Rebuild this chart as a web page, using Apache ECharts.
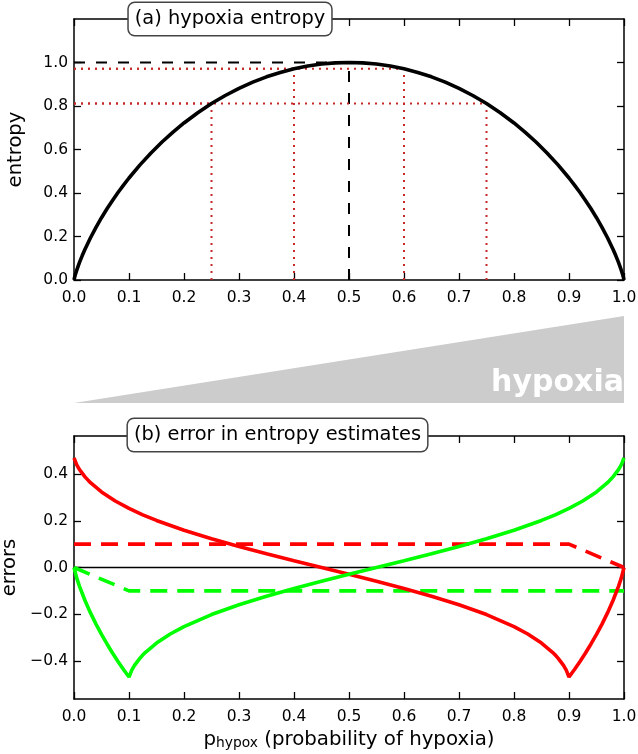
<!DOCTYPE html>
<html><head><meta charset="utf-8">
<script src="https://cdn.jsdelivr.net/npm/echarts@6/dist/echarts.min.js"></script>
<style>html,body{margin:0;padding:0;background:#fff}#c{width:638px;height:754px}</style>
</head><body><div id="c"></div>
<script>
// ---- data ----
const xTicks = [0,0.1,0.2,0.3,0.4,0.5,0.6,0.7,0.8,0.9,1.0];
const entropyTicks = [0,0.2,0.4,0.6,0.8,1.0];
const errorTicks = [-0.4,-0.2,0,0.2,0.4];

const pEntropy = [0,0.001,0.0025,0.005,0.01,0.015,0.02,0.03,0.04,0.05,0.06,0.07,0.08,0.09,0.1,0.12,0.14,0.16,0.18,0.2,0.225,0.25,0.275,0.3,0.325,0.35,0.375,0.4,0.425,0.45,0.475,0.5,
  0.525,0.55,0.575,0.6,0.625,0.65,0.675,0.7,0.725,0.75,0.775,0.8,0.82,0.84,0.86,0.88,0.9,0.91,0.92,0.93,0.94,0.95,0.96,0.97,0.98,0.985,0.99,0.995,0.9975,0.999,1];
const entropy = [0,0.0114,0.0252,0.0454,0.0808,0.1124,0.1414,0.1944,0.2423,0.2864,0.3274,0.3659,0.4022,0.4365,0.4690,0.5294,0.5842,0.6343,0.6801,0.7219,0.7692,0.8113,0.8484,0.8813,0.9098,0.9341,0.9544,0.9710,0.9837,0.9928,0.9982,1.0,
  0.9982,0.9928,0.9837,0.9710,0.9544,0.9341,0.9098,0.8813,0.8484,0.8113,0.7692,0.7219,0.6801,0.6343,0.5842,0.5294,0.4690,0.4365,0.4022,0.3659,0.3274,0.2864,0.2423,0.1944,0.1414,0.1124,0.0808,0.0454,0.0252,0.0114,0];

const maxP = [0,0.5];          // black dashed guide
const maxH = [1.0,1.0];
const markP = [0.25,0.4,0.6,0.75];    // red dotted guides
const markH = [0.811,0.971,0.971,0.811];

const pRed = [0,0.005,0.01,0.02,0.03,0.05,0.075,0.1,0.125,0.15,0.2,0.25,0.3,0.35,0.4,0.45,0.5,0.55,0.6,0.65,0.7,0.75,0.8,0.825,0.85,0.87,0.875,0.88,0.89,0.895,0.9,0.91,0.92,0.93,0.94,0.95,0.96,0.97,0.98,0.99,0.995,1];
const errRed = [0.469,0.4392,0.4191,0.3880,0.3630,0.3234,0.2847,0.2529,0.2256,0.2015,0.1594,0.1228,0.0897,0.0587,0.0290,0,-0.0290,-0.0587,-0.0897,-0.1228,-0.1594,-0.2015,-0.2529,-0.2847,-0.3234,-0.3630,-0.3749,-0.3880,-0.4191,-0.4392,-0.469,-0.4365,-0.4022,-0.3659,-0.3274,-0.2864,-0.2423,-0.1944,-0.1414,-0.0808,-0.0454,0];
const pGreen = [0,0.005,0.01,0.02,0.03,0.04,0.05,0.06,0.07,0.08,0.09,0.1,0.105,0.11,0.12,0.125,0.13,0.15,0.175,0.2,0.25,0.3,0.35,0.4,0.45,0.5,0.55,0.6,0.65,0.7,0.75,0.8,0.85,0.875,0.9,0.925,0.95,0.97,0.98,0.99,0.995,1];
const errGreen = [0,-0.0454,-0.0808,-0.1414,-0.1944,-0.2423,-0.2864,-0.3274,-0.3659,-0.4022,-0.4365,-0.469,-0.4392,-0.4191,-0.3880,-0.3749,-0.3630,-0.3234,-0.2847,-0.2529,-0.2015,-0.1594,-0.1228,-0.0897,-0.0587,-0.0290,0,0.0290,0.0587,0.0897,0.1228,0.1594,0.2015,0.2256,0.2529,0.2847,0.3234,0.3630,0.3880,0.4191,0.4392,0.469];
const pRedDash = [0,0.9,1];
const redDash = [0.1,0.1,0];
const pGreenDash = [0,0.1,1];
const greenDash = [0,-0.1,-0.1];
const pZero = [0,1];
const zeroLine = [0,0];
const pWedge = [0,1];
const wedge = [0,1];

// ---- chart ----
const FONT = '"DejaVu Sans", sans-serif';
const zip = (xs, ys) => xs.map((x,i)=>[x, ys[i]]);
const fmt = v => (v < 0 ? '\u2212' : '') + Math.abs(v).toFixed(1);

function xAx(grid, pos, labels) {
  return {
    type:'value', gridIndex:grid, position:pos, min:0, max:1, interval:0.1,
    axisLine:{show:true, onZero:false, lineStyle:{color:'#000', width:1.5}},
    axisTick:{show:true, inside:true, length:7, lineStyle:{color:'#000', width:1.3}},
    axisLabel:{show:labels, margin:10, color:'#000', fontFamily:FONT, fontSize:15.5, formatter:fmt},
    splitLine:{show:false}
  };
}
function yAx(grid, pos, labels, min, max, ticks, extra) {
  return Object.assign({
    type:'value', gridIndex:grid, position:pos, min:min, max:max,
    axisLine:{show:true, onZero:false, lineStyle:{color:'#000', width:1.5}},
    axisTick:{show:true, inside:true, length:7, customValues:ticks, lineStyle:{color:'#000', width:1.3}},
    axisLabel:{show:labels, margin:6, color:'#000', fontFamily:FONT, fontSize:15.5, customValues:ticks, formatter:fmt},
    splitLine:{show:false}
  }, extra||{});
}

const series = [];
// top panel
series.push({type:'line', xAxisIndex:0, yAxisIndex:0, data:zip(maxP,maxH), symbol:'none',
  lineStyle:{color:'#000', width:2, type:[11,11]}, z:3});
series.push({type:'line', xAxisIndex:0, yAxisIndex:0, data:[[maxP[1],0],[maxP[1],maxH[1]]], symbol:'none',
  lineStyle:{color:'#000', width:2, type:[11,11]}, z:3});
markP.forEach((p,i)=>{
  series.push({type:'line', xAxisIndex:0, yAxisIndex:0, data:[[p,0],[p,markH[i]]], symbol:'none',
    lineStyle:{color:'#c62828', width:2, type:[2,5]}, z:4});
  series.push({type:'line', xAxisIndex:0, yAxisIndex:0, data:[[0,markH[i]],[p,markH[i]]], symbol:'none',
    lineStyle:{color:'#c62828', width:2, type:[2,5]}, z:4});
});
series.push({type:'line', xAxisIndex:0, yAxisIndex:0, data:zip(pEntropy,entropy), symbol:'none',
  lineStyle:{color:'#000', width:3.6}, z:5});
// bottom panel
series.push({type:'line', xAxisIndex:2, yAxisIndex:2, data:zip(pZero,zeroLine), symbol:'none',
  lineStyle:{color:'#000', width:1.5}, z:2});
series.push({type:'line', xAxisIndex:2, yAxisIndex:2, data:zip(pRedDash,redDash), symbol:'none',
  lineStyle:{color:'#ff0000', width:3.6, type:[17,10]}, z:3});
series.push({type:'line', xAxisIndex:2, yAxisIndex:2, data:zip(pGreenDash,greenDash), symbol:'none',
  lineStyle:{color:'#00ff00', width:3.6, type:[17,10]}, z:3});
series.push({type:'line', xAxisIndex:2, yAxisIndex:2, data:zip(pRed,errRed), symbol:'none',
  lineStyle:{color:'#ff0000', width:3.6}, z:4});
series.push({type:'line', xAxisIndex:2, yAxisIndex:2, data:zip(pGreen,errGreen), symbol:'none',
  lineStyle:{color:'#00ff00', width:3.6}, z:5});
// wedge
series.push({type:'line', xAxisIndex:4, yAxisIndex:4, data:zip(pWedge,wedge), symbol:'none',
  lineStyle:{width:0, color:'#cccccc'}, areaStyle:{color:'#cccccc', opacity:1}, z:1});

const option = {
  animation:false,
  backgroundColor:'#fff',
  textStyle:{fontFamily:FONT},
  grid:[
    {left:74, right:14, top:19, height:261, outerBoundsMode:'none', containLabel:false},
    {left:74, right:14, top:436, height:263, outerBoundsMode:'none', containLabel:false},
    {left:74, right:14, top:316, height:87, outerBoundsMode:'none', containLabel:false}
  ],
  xAxis:[
    xAx(0,'bottom',true),
    xAx(0,'top',false),
    Object.assign(xAx(1,'bottom',true), {
      name:'{p|p}{s|hypox}{p| (probability of hypoxia)}', nameLocation:'middle', nameGap:27,
      nameTextStyle:{rich:{p:{fontSize:19.8, fontFamily:FONT, color:'#000', verticalAlign:'bottom', lineHeight:24},
                           s:{fontSize:13.8, fontFamily:FONT, color:'#000', verticalAlign:'bottom', lineHeight:20}}}
    }),
    xAx(1,'top',false),
    {type:'value', gridIndex:2, min:0, max:1, show:false}
  ],
  yAxis:[
    yAx(0,'left',true,0,1.2,entropyTicks,{name:'entropy', nameLocation:'middle', nameGap:48,
      nameTextStyle:{fontSize:19.6, fontFamily:FONT, color:'#000'}}),
    yAx(0,'right',false,0,1.2,entropyTicks),
    yAx(1,'left',true,-0.563,0.563,errorTicks,{name:'errors', nameLocation:'middle', nameGap:48,
      nameTextStyle:{fontSize:19.6, fontFamily:FONT, color:'#000'}}),
    yAx(1,'right',false,-0.563,0.563,errorTicks),
    {type:'value', gridIndex:2, min:0, max:1, show:false}
  ],
  series:series,
  graphic:[
    {type:'text', z:100, x:624, y:383, style:{text:'hypoxia', fill:'#fff', font:'bold 30px "DejaVu Sans"', textAlign:'right', textVerticalAlign:'middle'}},
    {type:'text', z:100, x:230, y:19, style:{text:'(a) hypoxia entropy', fill:'#000', font:'19.4px "DejaVu Sans"', textAlign:'center', textVerticalAlign:'middle',
      backgroundColor:'#fff', borderColor:'#444', borderWidth:1.5, borderRadius:6, padding:[5,6,5,6], lineHeight:22}},
    {type:'text', z:100, x:277.5, y:435, style:{text:'(b) error in entropy estimates', fill:'#000', font:'19.4px "DejaVu Sans"', textAlign:'center', textVerticalAlign:'middle',
      backgroundColor:'#fff', borderColor:'#444', borderWidth:1.5, borderRadius:6, padding:[5,6,5,6], lineHeight:22}}
  ]
};
const chart = echarts.init(document.getElementById('c'), null, {renderer:'canvas'});
chart.setOption(option);
</script></body></html>
